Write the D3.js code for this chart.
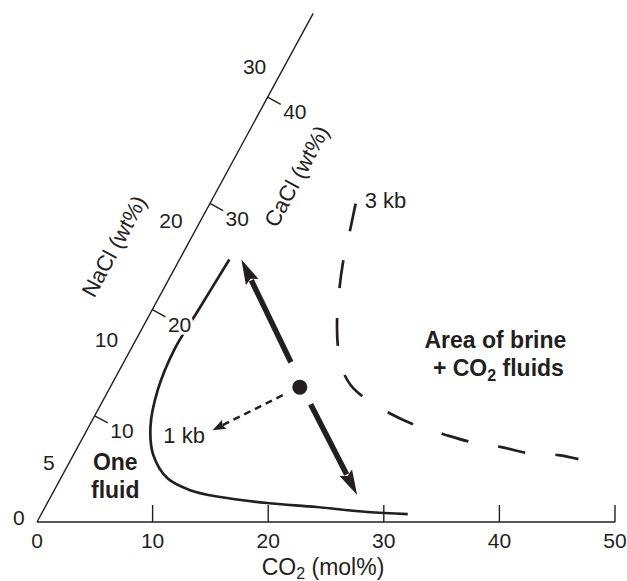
<!DOCTYPE html>
<html>
<head>
<meta charset="utf-8" />
<title>CO2 - salt solvus</title>
<style>
body { margin: 0; background: #fff; }
text { font-family: "Liberation Sans", Arial, Helvetica, sans-serif; fill: #231f20; }
</style>
</head>
<body>
<div id="chart"></div>
<script src="https://d3js.org/d3.v7.min.js"></script>
<script>
(function(d3) {
	'use strict';

	// CO2 axis (mol%)
	var co2Ticks = [0, 10, 20, 30, 40, 50];
	// diagonal edge: CaCl (wt%) ticks on the right side
	var caclTicks = [10, 20, 30, 40];
	// NaCl (wt%) labels on the left side, at their CaCl-equivalent place
	var naclLabels = [0, 5, 10, 20, 30];
	var naclEquiv = [-0.4, 4.8, 16, 27.2, 41.7];

	// solvus curves as [CO2 mol%, CaCl wt%]
	var solvus1kb = [[4.31, 24.72], [4.0, 19.92], [3.78, 16.17], [4.25, 12.41], [5.36, 8.93],
		[6.92, 6.30], [9.2, 4.14], [11.75, 3.0], [14.67, 2.35], [19.0, 1.79], [23.5, 1.41],
		[28.1, 0.94], [31.7, 0.75]];
	var solvus3kb = [[12.61, 29.98], [13.44, 27.26], [14.22, 24.62], [15.27, 21.80], [16.49, 18.98],
		[17.83, 16.45], [19.15, 14.47], [20.72, 12.88], [22.40, 11.75], [25.39, 10.24],
		[28.19, 9.12], [31.04, 8.27], [33.83, 7.52], [36.65, 7.05], [39.27, 6.48],
		[41.96, 6.30], [43.88, 5.92]];

	var bulkPoint = [16.4, 12.7];
	// arrows from near the bulk point: [from, to]
	var arrowUp = [[14.46, 15.04], [5.35, 24.72]];
	var arrowDown = [[18.14, 11.09], [26.43, 2.54]];
	var arrowDashed = [[15.3, 11.94], [10.87, 8.65]];

	var width = 627;
	var height = 581;
	var baseY = 522;
	var angle = 61.5 * Math.PI / 180;
	var ux = Math.cos(angle), uy = -Math.sin(angle);
	// unit normal to the right of the diagonal
	var nx = Math.sin(angle), ny = Math.cos(angle);

	var x = d3.scaleLinear().domain([0, 50]).range([37, 615]);
	var salt = d3.scaleLinear().domain([0, 48]).range([0, 580]);
	var nacl = d3.scaleLinear().domain(naclLabels).range(naclEquiv);

	function pos(c, s) {
		var a = salt(s);
		return [x(c) + ux * a, baseY + uy * a];
	}

	var svg = d3.select('#chart').append('svg')
		.attr('width', width).attr('height', height);

	var ink = '#231f20';

	// CO2 axis
	svg.append('line')
		.attr('x1', x(0)).attr('x2', x(50))
		.attr('y1', baseY).attr('y2', baseY)
		.attr('stroke', ink).attr('stroke-width', 1.4);
	svg.selectAll('.xtick').data(co2Ticks.slice(1)).enter().append('line')
		.attr('x1', function(d) { return x(d); })
		.attr('x2', function(d) { return x(d); })
		.attr('y1', baseY).attr('y2', baseY - 17)
		.attr('stroke', ink).attr('stroke-width', 1.4);
	svg.selectAll('.xlab').data(co2Ticks).enter().append('text')
		.attr('x', function(d) { return x(d); })
		.attr('y', 548)
		.attr('text-anchor', 'middle')
		.attr('font-size', 21)
		.text(function(d) { return d; });

	var co2Title = svg.append('text')
		.attr('x', 323).attr('y', 575)
		.attr('text-anchor', 'middle')
		.attr('font-size', 23);
	co2Title.append('tspan').text('CO');
	co2Title.append('tspan').attr('font-size', 16).attr('dy', 4).text('2');
	co2Title.append('tspan').attr('dy', -4).text(' (mol%)');

	// diagonal edge
	var top = pos(0, 47.9);
	svg.append('line')
		.attr('x1', x(0)).attr('y1', baseY)
		.attr('x2', top[0]).attr('y2', top[1])
		.attr('stroke', ink).attr('stroke-width', 1.4);
	svg.selectAll('.dtick').data(caclTicks).enter().append('line')
		.attr('x1', function(d) { return pos(0, d)[0]; })
		.attr('y1', function(d) { return pos(0, d)[1]; })
		.attr('x2', function(d) { return pos(0, d)[0] + nx * 15; })
		.attr('y2', function(d) { return pos(0, d)[1] + ny * 15; })
		.attr('stroke', ink).attr('stroke-width', 1.4);

	var line = d3.line()
		.x(function(d) { return pos(d[0], d[1])[0]; })
		.y(function(d) { return pos(d[0], d[1])[1]; })
		.curve(d3.curveCatmullRom.alpha(0.5));

	// solvus curves
	svg.append('path').datum(solvus1kb)
		.attr('d', line)
		.attr('fill', 'none').attr('stroke', ink).attr('stroke-width', 2.7);
	svg.append('path').datum(solvus3kb)
		.attr('d', line)
		.attr('fill', 'none').attr('stroke', ink).attr('stroke-width', 2.7)
		.attr('stroke-dasharray', '28,30');

	// arrows
	function arrow(seg, shaftW, headL, headW, dash) {
		var p0 = pos(seg[0][0], seg[0][1]);
		var p1 = pos(seg[1][0], seg[1][1]);
		var dx = p1[0] - p0[0], dy = p1[1] - p0[1];
		var len = Math.sqrt(dx * dx + dy * dy);
		var ex = dx / len, ey = dy / len;
		var bx = p1[0] - ex * headL, by = p1[1] - ey * headL;
		var sh = svg.append('line')
			.attr('x1', p0[0]).attr('y1', p0[1])
			.attr('x2', bx + ex * 2).attr('y2', by + ey * 2)
			.attr('stroke', ink).attr('stroke-width', shaftW);
		if (dash) sh.attr('stroke-dasharray', dash);
		svg.append('path')
			.attr('d', 'M' + p1[0] + ',' + p1[1] +
				'L' + (bx - ey * headW) + ',' + (by + ex * headW) +
				'L' + (bx + ex * headL * 0.15) + ',' + (by + ey * headL * 0.15) +
				'L' + (bx + ey * headW) + ',' + (by - ex * headW) + 'Z')
			.attr('fill', ink);
	}
	arrow(arrowUp, 5.5, 25, 7);
	arrow(arrowDown, 5.5, 25, 7);
	arrow(arrowDashed, 2.5, 13, 5, '7,5');

	var bp = pos(bulkPoint[0], bulkPoint[1]);
	svg.append('circle')
		.attr('cx', bp[0]).attr('cy', bp[1]).attr('r', 7.5)
		.attr('fill', ink);

	// CaCl labels (knock out the curve behind them)
	svg.selectAll('.dlab').data(caclTicks).enter().append('text')
		.attr('x', function(d) { return pos(0, d)[0] + nx * 31; })
		.attr('y', function(d) { return pos(0, d)[1] + ny * 31; })
		.attr('dy', '0.35em')
		.attr('text-anchor', 'middle')
		.attr('font-size', 21)
		.attr('stroke', '#fff').attr('stroke-width', 6)
		.attr('paint-order', 'stroke')
		.text(function(d) { return d; });

	// NaCl labels
	svg.selectAll('.nlab').data(naclLabels).enter().append('text')
		.attr('x', function(d) { return pos(0, nacl(d))[0] - nx * (10 + 8 * String(d).length); })
		.attr('y', function(d) { return pos(0, nacl(d))[1] - ny * (10 + 8 * String(d).length); })
		.attr('dy', '0.35em')
		.attr('text-anchor', 'middle')
		.attr('font-size', 21)
		.text(function(d) { return d; });

	var deg = -61.5;
	var nt = pos(0, 23.1);
	svg.append('text')
		.attr('transform', 'translate(' + (nt[0] - nx * 64) + ',' + (nt[1] - ny * 64) + ') rotate(' + deg + ')')
		.attr('dy', '0.35em')
		.attr('text-anchor', 'middle')
		.attr('font-size', 22)
		.text('NaCl (wt%)');
	var ct = pos(0, 35.4);
	svg.append('text')
		.attr('transform', 'translate(' + (ct[0] + nx * 63) + ',' + (ct[1] + ny * 63) + ') rotate(' + deg + ')')
		.attr('dy', '0.35em')
		.attr('text-anchor', 'middle')
		.attr('font-size', 22)
		.text('CaCl (wt%)');

	// annotations
	var p1kb = pos(7.23, 7.42);
	svg.append('text').attr('x', p1kb[0]).attr('y', p1kb[1])
		.attr('font-size', 22).text('1 kb');
	var p3kb = pos(13.58, 29.6);
	svg.append('text').attr('x', p3kb[0]).attr('y', p3kb[1])
		.attr('font-size', 22).text('3 kb');

	var pOne = pos(4.33, 4.89);
	var one = svg.append('text').attr('x', pOne[0]).attr('y', pOne[1])
		.attr('text-anchor', 'middle').attr('font-size', 23).attr('font-weight', 'bold');
	one.append('tspan').attr('x', pOne[0]).text('One');
	one.append('tspan').attr('x', pOne[0]).attr('dy', 28).text('fluid');

	var pArea = pos(31.5, 16.35);
	var area = svg.append('text').attr('y', pArea[1])
		.attr('text-anchor', 'middle').attr('font-size', 23).attr('font-weight', 'bold');
	area.append('tspan').attr('x', pArea[0]).text('Area of brine');
	area.append('tspan').attr('x', pArea[0] + 3).attr('dy', 28).text('+ CO');
	area.append('tspan').attr('font-size', 16).attr('dy', 5).text('2');
	area.append('tspan').attr('dy', -5).text(' fluids');

})(window.d3);
</script>
</body>
</html>
